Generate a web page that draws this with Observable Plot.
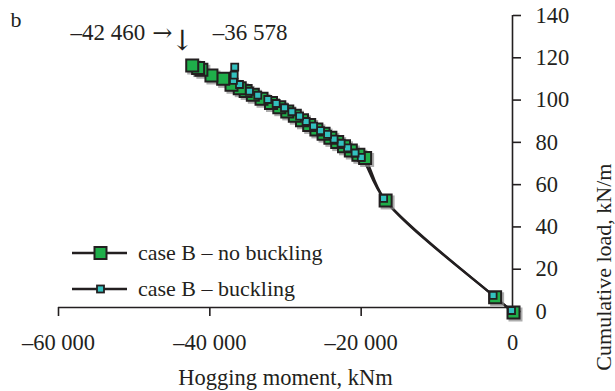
<!DOCTYPE html>
<html>
<head>
<meta charset="utf-8">
<script src="https://cdn.jsdelivr.net/npm/d3@7"></script>
<script src="https://cdn.jsdelivr.net/npm/@observablehq/plot@0.6"></script>
<style>
  body { margin: 0; background: #fff; }
  #wrap { position: relative; width: 615px; height: 391px; font-family: "Liberation Serif", "Times New Roman", serif; color: #231f20; }
  .key { position: absolute; left: 72px; display: flex; align-items: center; font-size: 22px; line-height: 1; white-space: nowrap; }
  .key svg { display: block; margin-right: 11px; }
</style>
</head>
<body>
<div id="wrap">
  <div class="key" id="key-nb" style="top:241px"></div>
  <div class="key" id="key-b" style="top:277px"></div>
</div>
<script>
// Case B without buckling: hogging moment (kNm) vs cumulative load (kN/m)
const noBucklingMoment = [0, -2430, -16900, -19610, -20500, -21500, -22400, -23300, -24200, -25100, -26050,
  -27000, -27950, -28900, -29900, -30950, -32050, -33300, -34450, -35400, -36180, -37270, -38370,
  -39920, -41250, -41680, -42460];
const noBucklingLoad = [0, 7.2, 53.0, 73.1, 74.6, 76.6, 78.6, 80.6, 82.6, 84.6, 86.6,
  88.7, 90.9, 93.1, 95.1, 97.1, 99.1, 101.1, 103.0, 104.8, 106.1, 107.7, 110.5,
  112.1, 114.8, 115.6, 116.8];

// Case B with buckling
const bucklingMoment = [0, -2430, -16900, -19850, -20670, -21660, -22520, -23450, -24310, -25240, -26160,
  -27150, -28010, -29030, -30000, -31100, -32210, -33530, -34630, -35950, -36750, -36650, -36578];
const bucklingLoad = [0, 7.2, 53.0, 72.4, 74.5, 76.9, 79.1, 81.1, 83.3, 85.1, 87.2,
  89.4, 91.9, 94.0, 95.9, 97.9, 99.8, 101.8, 103.7, 106.9, 108.8, 111.3, 115.1];

const xTicks = [-60000, -40000, -20000, 0];
const yTicks = [0, 20, 40, 60, 80, 100, 120, 140];

// Peak moments called out above the curves
const peakMoments = [-42460, -36578];
const peakLabels = ["–42 460", "–36 578"];

const seriesNames = ["case B – no buckling", "case B – buckling"];
const ink = "#231f20";
const green = "#1fae4a";
const cyan = "#33c1bf";
const font = "Liberation Serif, Times New Roman, serif";
const arrowFont = "DejaVu Serif, serif";

const toRows = (xs, ys) => xs.map((x, i) => ({moment: x, load: ys[i]}));
const noBuckling = toRows(noBucklingMoment, noBucklingLoad);
const buckling = toRows(bucklingMoment, bucklingLoad);
const peaks = peakMoments.map((m, i) => ({moment: m, label: peakLabels[i]}));

const fmt = d => d === 0 ? "0" : (d < 0 ? "–" : "") + String(Math.abs(d)).replace(/\B(?=(\d{3})+(?!\d))/g, " ");

const side = s => s / Math.sqrt(Math.PI); // dot radius giving a square of side s

const chart = Plot.plot({
  width: 615,
  height: 391,
  marginLeft: 58,
  marginRight: 103,
  marginTop: 15,
  marginBottom: 80,
  style: {fontFamily: font, fontSize: "22px", color: ink, background: "transparent"},
  x: {domain: [-60000, 0]},
  y: {domain: [0, 140]},
  marks: [
    // axis lines
    Plot.ruleY([0], {stroke: ink, strokeWidth: 1.6, dy: -4}),
    Plot.ruleX([0], {stroke: ink, strokeWidth: 1.6}),
    Plot.axisX({anchor: "bottom", ticks: xTicks, tickFormat: fmt, tickSize: 9, tickPadding: 18, dy: -4,
      stroke: ink, strokeWidth: 1.6, fill: ink, fontSize: 22.5, label: null}),
    Plot.axisY({anchor: "right", ticks: yTicks, tickFormat: d => String(d), tickSize: 8, tickPadding: 15,
      stroke: ink, strokeWidth: 1.6, fill: ink, fontSize: 22.5, textAnchor: "start", label: null}),
    Plot.text(["Hogging moment, kNm"], {frameAnchor: "bottom", dy: 73, fontSize: 22.5, fill: ink}),
    Plot.text(["Cumulative load, kN/m"], {frameAnchor: "right", dx: 91, rotate: -90, fontSize: 22, fill: ink}),
    Plot.text(["b"], {frameAnchor: "top-left", dx: -48, dy: -4, textAnchor: "start", fontSize: 22, fill: ink}),

    // curves
    Plot.line(noBuckling, {x: "moment", y: "load", curve: "catmull-rom", stroke: ink, strokeWidth: 2.3}),
    Plot.line(buckling, {x: "moment", y: "load", curve: "catmull-rom", stroke: ink, strokeWidth: 2.3}),

    // no-buckling markers with a soft shadow
    Plot.dot(noBuckling, {x: "moment", y: "load", symbol: "square", r: side(14), fill: "#8a8a8a", stroke: "none",
      dx: 3, dy: 3, fillOpacity: 0.7}),
    Plot.dot(noBuckling, {x: "moment", y: "load", symbol: "square", r: side(12), fill: green, stroke: ink,
      strokeWidth: 2, dx: 1, dy: 1}),

    // buckling markers
    Plot.dot(buckling, {x: "moment", y: "load", symbol: "square", r: side(7), fill: cyan, stroke: ink,
      strokeWidth: 1.8, dx: -1, dy: -1}),

    // peak callouts
    Plot.text(peaks.slice(0, 1), {x: "moment", text: "label", frameAnchor: "top", dy: 8, dx: -46,
      textAnchor: "end", fontSize: 23, fill: ink}),
    Plot.text(peaks.slice(0, 1), {x: "moment", text: () => "→", frameAnchor: "top", dy: 8, dx: -29,
      fontSize: 24, fontFamily: arrowFont, fill: ink}),
    Plot.text(peaks.slice(0, 1), {x: "moment", text: () => "↓", frameAnchor: "top", dy: 15, dx: -9,
      fontSize: 28, fontFamily: arrowFont, fill: ink}),
    Plot.text(peaks.slice(1), {x: "moment", text: "label", frameAnchor: "top", dy: 8, dx: -23,
      textAnchor: "start", fontSize: 23, fill: ink})
  ]
});
document.getElementById("wrap").prepend(chart);

// legend keys: line with the series marker
function key(el, name, fill, s, sw) {
  const w = 55, h = 24, c = w / 2 + 1;
  el.innerHTML =
    `<svg width="${w}" height="${h}"><line x1="0" x2="${w}" y1="${h / 2}" y2="${h / 2}" stroke="${ink}" stroke-width="2.3"/>` +
    `<rect x="${c - s / 2}" y="${h / 2 - s / 2}" width="${s}" height="${s}" fill="${fill}" stroke="${ink}" stroke-width="${sw}"/></svg>` +
    `<span>${name}</span>`;
}
key(document.getElementById("key-nb"), seriesNames[0], green, 12, 2);
key(document.getElementById("key-b"), seriesNames[1], cyan, 7, 1.8);
</script>
</body>
</html>
